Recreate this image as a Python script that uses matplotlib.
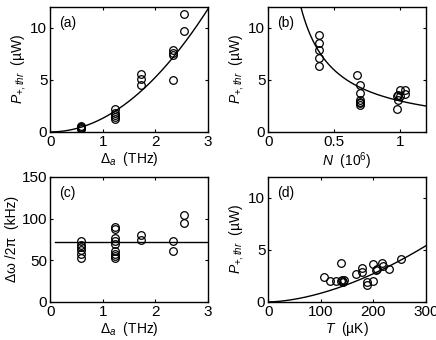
import matplotlib
matplotlib.use("Agg")
import matplotlib.pyplot as plt
import numpy as np

plt.rcParams['font.family'] = ['Liberation Sans', 'DejaVu Sans']
plt.rcParams['mathtext.fontset'] = 'custom'
plt.rcParams['mathtext.rm'] = 'Liberation Sans'
plt.rcParams['mathtext.it'] = 'Liberation Sans:italic'
plt.rcParams['font.size'] = 10

# (a) threshold power vs atomic detuning
a_det = [0.58, 0.58, 0.58, 0.58,
         1.23, 1.23, 1.23, 1.23, 1.23,
         1.73, 1.73, 1.73,
         2.34, 2.34, 2.34, 2.34,
         2.55, 2.55]
a_pow = [0.3, 0.4, 0.5, 0.6,
         2.16, 1.84, 1.6, 1.39, 1.2,
         5.58, 5.06, 4.5,
         7.84, 7.58, 7.4, 5.0,
         11.3, 9.68]
a_fit_coef = 1.31  # P = c * Delta^2

# (b) threshold power vs atom number
b_num = [0.39, 0.39, 0.39, 0.39, 0.39,
         0.674, 0.70, 0.70, 0.70, 0.70, 0.70, 0.70,
         0.98, 0.98, 0.985, 0.99, 1.0, 1.0, 1.04, 1.04]
b_pow = [9.29, 8.55, 7.84, 7.1, 6.29,
         5.5, 4.5, 3.77, 3.06, 2.9, 2.74, 2.58,
         2.16, 3.4, 3.1, 3.5, 4.0, 3.4, 4.0, 3.6]
b_fit_coef = 2.98  # P = c / N

# (c) linewidth vs atomic detuning
c_det = [0.58] * 6 + [1.23] * 9 + [1.73] * 2 + [2.34] * 2 + [2.55] * 2
c_width = [72.6, 68.5, 65.7, 62.5, 57.7, 52.4,
           89.9, 87.5, 76.6, 72.6, 69.8, 60.5, 57.7, 55.2, 52.4,
           80.6, 73.8,
           72.6, 60.5,
           104.8, 94.8]
c_mean = 71.4

# (d) threshold power vs temperature
d_temp = [107, 117, 129.5, 139, 138, 142, 140, 145, 167, 178, 178, 188, 188,
          199, 199, 205, 207, 216, 218, 229, 253]
d_pow = [2.35, 2.03, 2.03, 3.7, 2.03, 1.94, 2.1, 2.1, 2.68, 3.29, 2.9, 1.94, 1.6,
         2.03, 3.65, 3.06, 3.2, 3.77, 3.4, 3.13, 4.1]
d_fit_end = 5.39  # value at 300 uK
d_fit_exp = 1.7

p_label = r'$P_{+,thr}$  (µW)'

fig = plt.figure(figsize=(4.36, 3.4), dpi=100)
w, h = 0.362, 0.368
ax_a = fig.add_axes([0.115, 0.612, w, h])
ax_b = fig.add_axes([0.615, 0.612, w, h])
ax_c = fig.add_axes([0.115, 0.112, w, h])
ax_d = fig.add_axes([0.615, 0.112, w, h])

mk = dict(linestyle='none', marker='o', markersize=5.5, markerfacecolor='none',
          markeredgecolor='black', markeredgewidth=0.9)

# (a)
ax_a.plot(a_det, a_pow, **mk)
xa = np.linspace(0, 3, 200)
ax_a.plot(xa, a_fit_coef * xa ** 2, color='black', lw=1)
ax_a.set_xlim(0, 3)
ax_a.set_ylim(0, 12)
ax_a.set_xticks([0, 1, 2, 3])
ax_a.set_yticks([0, 5, 10])
ax_a.set_xlabel(r'$\Delta_a$  (THz)', labelpad=1)
ax_a.set_ylabel(p_label, labelpad=2)
ax_a.text(0.06, 0.93, '(a)', transform=ax_a.transAxes, va='top')

# (b)
ax_b.plot(b_num, b_pow, **mk)
xb = np.linspace(0.2, 1.2, 200)
ax_b.plot(xb, b_fit_coef / xb, color='black', lw=1)
ax_b.set_xlim(0, 1.2)
ax_b.set_ylim(0, 12)
ax_b.set_xticks([0, 0.5, 1])
ax_b.set_xticklabels(['0', '0.5', '1'])
ax_b.set_yticks([0, 5, 10])
ax_b.set_xlabel(r'$N$  (10$^6$)', labelpad=1)
ax_b.set_ylabel(p_label, labelpad=2)
ax_b.text(0.06, 0.93, '(b)', transform=ax_b.transAxes, va='top')

# (c)
ax_c.plot(c_det, c_width, **mk)
ax_c.plot([0.1, 3], [c_mean, c_mean], color='black', lw=1)
ax_c.set_xlim(0, 3)
ax_c.set_ylim(0, 150)
ax_c.set_xticks([0, 1, 2, 3])
ax_c.set_yticks([0, 50, 100, 150])
ax_c.set_xlabel(r'$\Delta_a$  (THz)', labelpad=1)
ax_c.set_ylabel('Δω /2π  (kHz)', labelpad=2)
ax_c.text(0.06, 0.93, '(c)', transform=ax_c.transAxes, va='top')

# (d)
ax_d.plot(d_temp, d_pow, **mk)
xd = np.linspace(0, 300, 200)
ax_d.plot(xd, d_fit_end * (xd / 300) ** d_fit_exp, color='black', lw=1)
ax_d.set_xlim(0, 300)
ax_d.set_ylim(0, 12)
ax_d.set_xticks([0, 100, 200, 300])
ax_d.set_yticks([0, 5, 10])
ax_d.set_xlabel(r'$T$  (µK)', labelpad=1)
ax_d.set_ylabel(p_label, labelpad=2)
ax_d.text(0.06, 0.93, '(d)', transform=ax_d.transAxes, va='top')

for ax in (ax_a, ax_b, ax_c, ax_d):
    ax.tick_params(direction='in', length=2.5, width=0.8, top=True, right=True,
                   labelsize=11, pad=2)
    for s in ax.spines.values():
        s.set_linewidth(1.0)

fig.savefig('out.png', dpi=100)
